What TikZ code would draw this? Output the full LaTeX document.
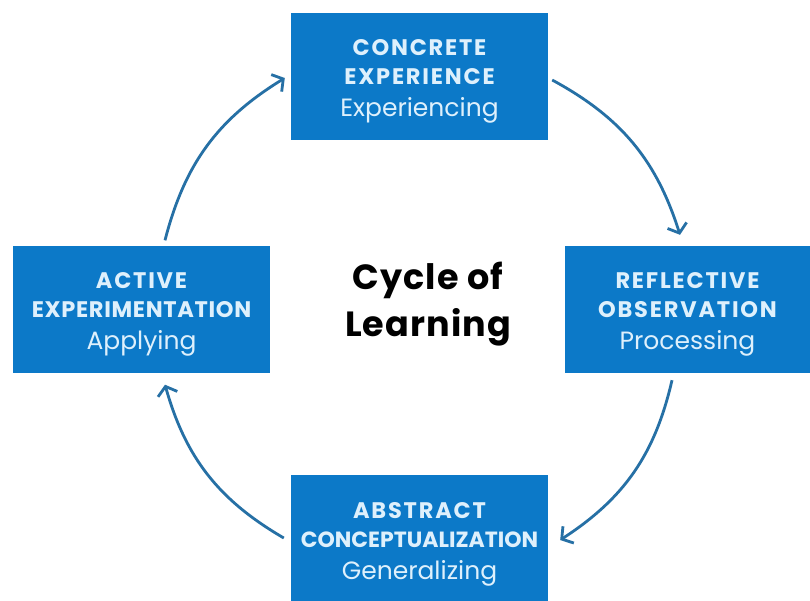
\documentclass[tikz,border=0pt]{standalone}
\usepackage{fontspec}
\setmainfont{Poppins}
\newfontfamily\capsfont[LetterSpace=8]{Poppins}
\newfontfamily\capsfontnarrow[LetterSpace=3]{Poppins}
\newfontfamily\titlefont[LetterSpace=3]{Poppins}
\usetikzlibrary{arrows.meta,calc}
\definecolor{boxblue}{RGB}{12,121,200}
\definecolor{arrowblue}{RGB}{38,112,165}
\definecolor{boxtext}{RGB}{222,240,252}
\newcommand{\hd}[1]{{\capsfont\bfseries\fontsize{22.5}{29}\selectfont #1}}
\newcommand{\hdtop}[1]{{\capsfont\bfseries\fontsize{22.5}{29}\selectfont\rule{0pt}{26pt}#1}}
\newcommand{\hdn}[1]{{\capsfontnarrow\bfseries\fontsize{22.5}{29}\selectfont #1}}
\newcommand{\hdc}[1]{{\bfseries\fontsize{22}{29}\selectfont #1}}
\newcommand{\subtx}[1]{{\fontsize{25}{30}\selectfont #1}}
\begin{document}
\begin{tikzpicture}[x=1pt,y=1pt,
  stage/.style={fill=boxblue, draw=none, minimum width=257pt, minimum height=127pt,
    text=boxtext, align=center, inner sep=0pt, font=\fontsize{22}{29}\selectfont},
  cyc/.style={draw=arrowblue, line width=2.8pt,
    -{Straight Barb[length=8pt,width=20pt,line width=2.8pt]}}]
\useasboundingbox (0,0) rectangle (810,-600);
\clip (0,0) rectangle (810,-600);
\fill[white] (0,0) rectangle (810,-600);
\node[stage] (top) at (419.5,-76.5) {\hdtop{CONCRETE}\\\hd{EXPERIENCE}\\[3pt]\subtx{Experiencing}};
\node[stage] (left) at (141.5,-309) {\hdtop{ACTIVE}\\\hdn{EXPERIMENTATION}\\[3pt]\subtx{Applying}};
\node[stage, minimum width=245pt] (right) at (687.5,-309.5) {\hdtop{REFLECTIVE}\\\hd{OBSERVATION}\\[3pt]\subtx{Processing}};
\node[stage, minimum height=128pt] (bottom) at (419.5,-539) {\hdtop{ABSTRACT}\\\hdc{CONCEPTUALIZATION}\\[3pt]\subtx{Generalizing}};
\node[font=\titlefont\bfseries\fontsize{35}{47}\selectfont, align=center] (title) at (428,-304) {Cycle of\\Learning};
\draw[cyc] ($(top.east)+(4,-3.5)$) to[bend left=22] ($(right.north)+(-7.5,11)$);
\draw[cyc] ($(right.south)+(-15.5,-7)$) to[bend left=22] ($(bottom.east)+(12,-1)$);
\draw[cyc] ($(bottom.west)+(-7,1)$) to[bend left=22] ($(left.south)+(23.5,-12)$);
\draw[cyc] ($(left.north)+(23.5,5)$) to[bend left=22] ($(top.west)+(-6,-1.5)$);
\end{tikzpicture}
\end{document}
